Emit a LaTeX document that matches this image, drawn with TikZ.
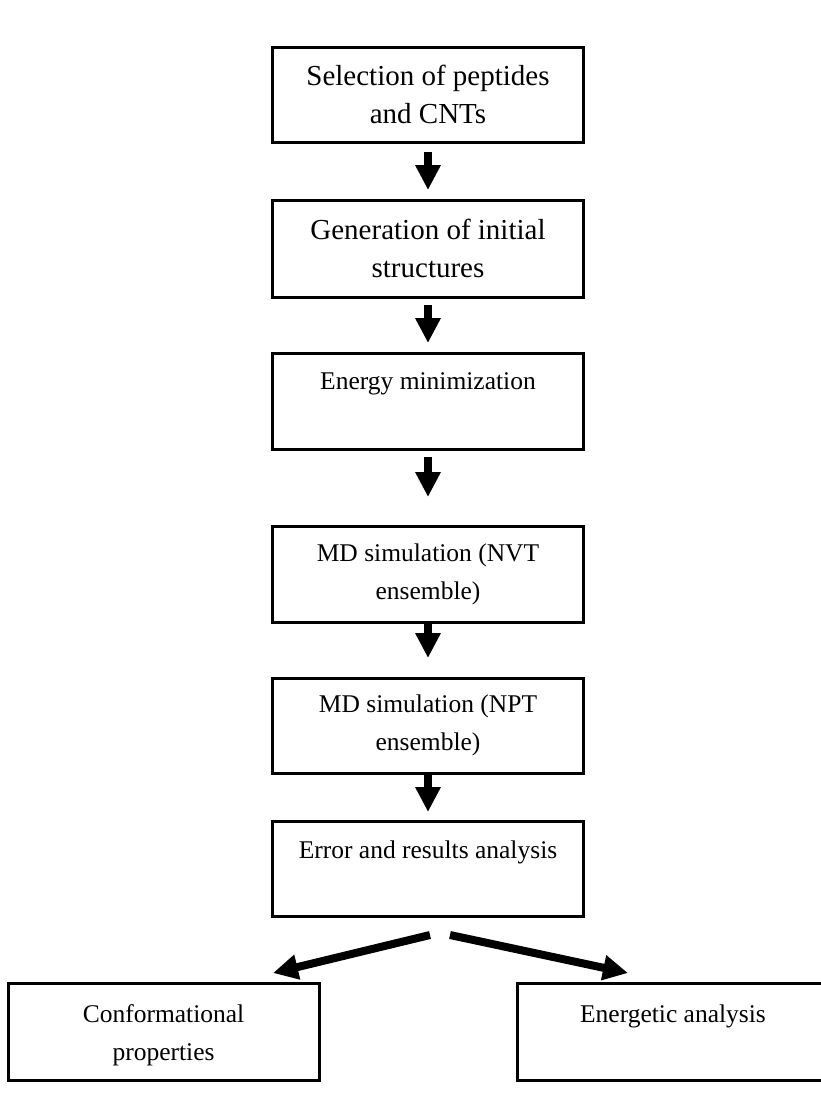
\documentclass[tikz,border=0pt]{standalone}
\usepackage{fontspec}
\setmainfont{Liberation Serif}
\usetikzlibrary{arrows.meta,calc}
\begin{document}
\begin{tikzpicture}[x=1pt,y=-1pt,
  box/.style={draw=black, line width=3pt, fill=white, outer sep=0pt, inner sep=0pt,
    align=center, minimum width=311pt, font=\fontsize{25.5}{38}\selectfont},
  bigbox/.style={box, font=\fontsize{29}{38}\selectfont},
  bigarrow/.style={line width=8pt, -{Triangle[length=25pt,width=24pt]}}]
\useasboundingbox[fill=white] (0,0) rectangle (820,1119);
\node[bigbox, minimum height=95pt] (b1) at (428,94.5) {Selection of peptides\\and CNTs};
\node[bigbox, minimum height=97pt] (b2) at (428,248.5) {Generation of initial\\structures};
\node[box, minimum height=96pt] (b3) at (428,401) {Energy minimization\\[-10pt]\strut};
\node[box, minimum height=96pt] (b4) at (428,574) {MD simulation (NVT\\ensemble)};
\node[box, minimum height=95pt] (b5) at (428,725.5) {MD simulation (NPT\\ensemble)};
\node[box, minimum height=95pt] (b6) at (428,868.5) {Error and results analysis\\[-12pt]\strut};
\node[box, minimum height=97pt] (b7) at (163.5,1031.5) {\rule{0pt}{26pt}Conformational\\properties};
\node[box, minimum height=97pt, minimum width=312pt] (b8) at (673,1031.5) {Energetic analysis\\[-14pt]\strut};
\draw[bigarrow, shorten <=10pt, shorten >=10pt] (b1.south) -- (b2.north);
\draw[bigarrow, shorten <=8pt, shorten >=10pt] (b2.south) -- (b3.north);
\draw[bigarrow, shorten <=8pt, shorten >=29pt] (b3.south) -- (b4.north);
\draw[bigarrow, shorten <=1pt, shorten >=20pt] (b4.south) -- (b5.north);
\draw[bigarrow, shorten <=1pt, shorten >=9pt] (b5.south) -- (b6.north);
\coordinate (sl) at ($(b6.south)+(2,19)$);
\coordinate (sr) at ($(b6.south)+(22,19)$);
\coordinate (tl) at ($(b7.north east)+(-46,-10)$);
\coordinate (tr) at ($(b8.north west)+(111,-10)$);
\draw[bigarrow] (sl) -- (tl);
\draw[bigarrow] (sr) -- (tr);
\end{tikzpicture}
\end{document}
